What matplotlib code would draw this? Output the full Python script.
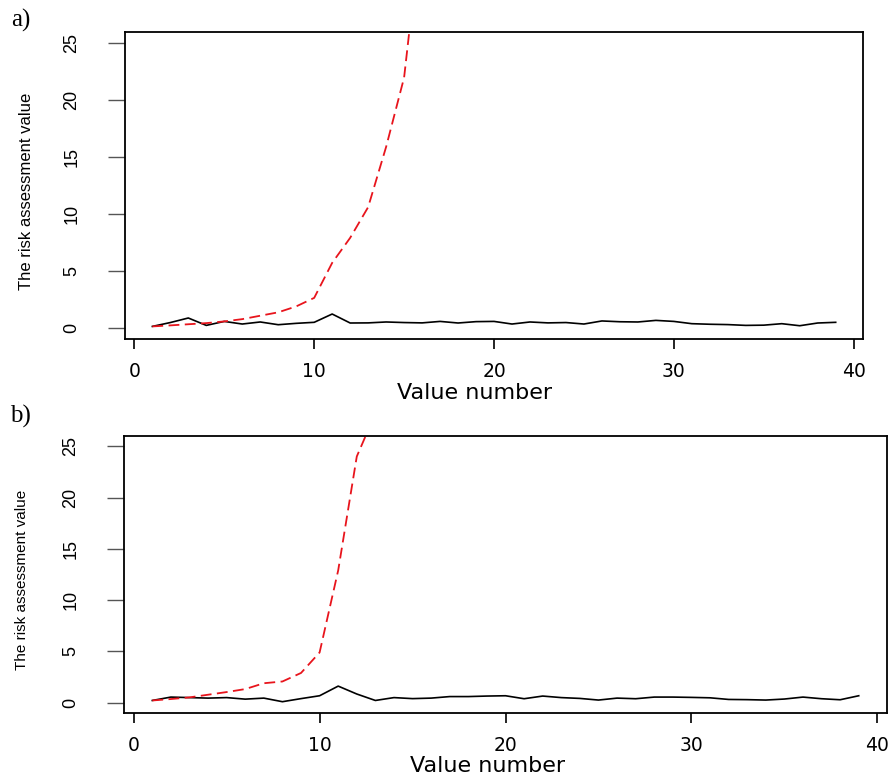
import numpy as np
import matplotlib
matplotlib.use("Agg")
import matplotlib.pyplot as plt

# Panel a) values
x_a = list(range(1, 40))
black_a = [0.11, 0.45, 0.85, 0.2, 0.55, 0.32, 0.5, 0.26, 0.38, 0.47,
           1.2, 0.41, 0.42, 0.5, 0.45, 0.42, 0.55, 0.41, 0.53, 0.55,
           0.32, 0.5, 0.42, 0.45, 0.32, 0.59, 0.52, 0.5, 0.64, 0.55,
           0.35, 0.3, 0.27, 0.2, 0.22, 0.35, 0.17, 0.41, 0.47]
x_red_a = list(range(1, 17))
red_a = [0.11, 0.2, 0.3, 0.4, 0.55, 0.75, 1.05, 1.35, 1.87, 2.62,
         5.7, 7.9, 10.6, 15.9, 22.0, 36.0]

# Panel b) values
x_b = list(range(1, 40))
black_b = [0.22, 0.55, 0.5, 0.45, 0.5, 0.35, 0.45, 0.1, 0.4, 0.68,
           1.62, 0.85, 0.22, 0.5, 0.4, 0.45, 0.6, 0.6, 0.65, 0.68,
           0.39, 0.65, 0.5, 0.42, 0.26, 0.45, 0.39, 0.55, 0.55, 0.52,
           0.48, 0.32, 0.3, 0.26, 0.36, 0.55, 0.39, 0.29, 0.68]
x_red_b = list(range(1, 14))
red_b = [0.22, 0.36, 0.52, 0.78, 1.04, 1.33, 1.9, 2.07, 2.9, 4.9,
         12.9, 24.0, 28.2]

xticks = [0, 10, 20, 30, 40]
yticks = [0, 5, 10, 15, 20, 25]

narrow = ['Liberation Sans', 'DejaVu Sans']

fig = plt.figure(figsize=(8.91, 7.76), dpi=100)

def panel(rect, xs, ys, xr, yr, tag, lab_x, ylab_size, tag_dy):
    ax = fig.add_axes(rect)
    ax.plot(xs, ys, color='black', lw=1.2)
    ax.plot(xr, yr, color='#e8141c', lw=1.3, linestyle=(0, (6, 3)))
    ax.set_xlim(-0.52, 40.52)
    ax.set_ylim(-1, 26)
    ax.set_xticks(xticks)
    ax.set_yticks(yticks)
    for s in ax.spines.values():
        s.set_linewidth(1.3)
    ax.tick_params(axis='x', length=7.5, width=1.2, pad=9, labelsize=13.5)
    ax.tick_params(axis='y', length=12, width=1.0, color='#555555', pad=20)
    for t in ax.get_yticklabels():
        t.set_rotation(90)
        t.set_va('center')
        t.set_family(narrow)
        t.set_fontsize(13)
    ax.set_xlabel('Value number', fontsize=16)
    ax.xaxis.set_label_coords(lab_x, -0.175)
    ax.xaxis.label.set_va('center')
    ax.set_ylabel('The risk assessment value', family=narrow, fontsize=ylab_size)
    ax.yaxis.set_label_coords(-0.134, 0.48)
    ax.yaxis.label.set_va('center')
    fig.text(rect[0] - 0.128, rect[1] + rect[3] + tag_dy, tag,
             family='Liberation Serif', fontsize=18, va='bottom')
    return ax

ax1 = panel([0.1403, 0.5631, 0.8283, 0.3956], x_a, black_a, x_red_a, red_a, 'a)', 0.473, 12, 0.0)
ax2 = panel([0.1392, 0.0812, 0.8563, 0.3570], x_b, black_b, x_red_b, red_b, 'b)', 0.476, 11, 0.01)
ax2.xaxis.set_label_coords(0.476, -0.19)

fig.savefig('out.png', dpi=100)
